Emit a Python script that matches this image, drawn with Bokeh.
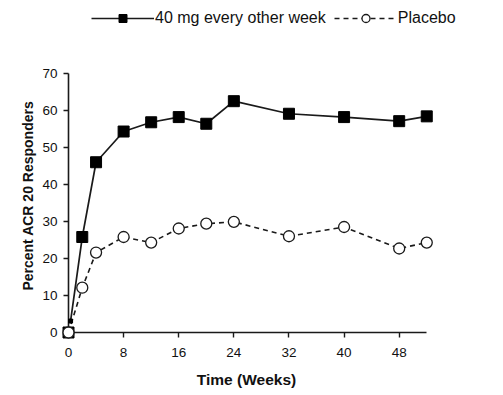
from bokeh.plotting import figure
from bokeh.models import Range1d, Legend, LegendItem, FixedTicker
from bokeh.embed import file_html
from bokeh.resources import INLINE

# ---- data ----
weeks_active = [0, 2, 4, 8, 12, 16, 20, 24, 32, 40, 48, 52]
resp_active = [0, 25.8, 46.0, 54.3, 56.8, 58.2, 56.4, 62.5, 59.1, 58.2, 57.1, 58.4]
line_weeks_active = [0.3, 2, 4, 8, 12, 16, 20, 24, 32, 40, 48, 52]
line_resp_active = [3.1, 25.8, 46.0, 54.3, 56.8, 58.2, 56.4, 62.5, 59.1, 58.2, 57.1, 58.4]
small_week = [0.3]
small_resp = [3.1]
weeks_placebo = [0, 2, 4, 8, 12, 16, 20, 24, 32, 40, 48, 52]
resp_placebo = [0, 12.1, 21.6, 25.8, 24.3, 28.1, 29.4, 29.9, 26.0, 28.5, 22.7, 24.3]
x_ticks = [0, 8, 16, 24, 32, 40, 48]
y_ticks = [0, 10, 20, 30, 40, 50, 60, 70]
label_active = "40 mg every other week"
label_placebo = "Placebo"
x_title = "Time (Weeks)"
y_title = "Percent ACR 20 Responders"

FONT = "Liberation Sans"
NB = "\u00a0"

p = figure(width=503, height=395, output_backend="svg", toolbar_location=None,
           x_range=Range1d(0, 59.8), y_range=Range1d(0, 89.7),
           min_border_top=0, min_border_bottom=63, min_border_left=68, min_border_right=23)
p.outline_line_color = None
p.grid.visible = False
p.background_fill_color = "white"

LC = "#1a1a1a"
la = p.line(line_weeks_active, line_resp_active, line_color=LC, line_width=1.7, level="overlay")
lp = p.line(weeks_placebo, resp_placebo, line_color=LC, line_width=1.6, line_dash="5 4", level="overlay")
p.scatter(small_week, small_resp, marker="square", size=4, fill_color="black", line_color="black", level="overlay")
sa = p.scatter(weeks_active, resp_active, marker="square", size=11, fill_color="black",
               line_color="black", level="overlay")
sp = p.scatter(weeks_placebo, resp_placebo, marker="circle", size=11, fill_color="white",
               line_color=LC, line_width=1.3, level="overlay")

for ax in (p.xaxis[0], p.yaxis[0]):
    ax.axis_line_color = LC
    ax.axis_line_width = 1.6
    ax.major_tick_line_color = LC
    ax.major_tick_line_width = 1.4
    ax.major_tick_in = 0
    ax.major_tick_out = 5
    ax.minor_tick_line_color = None
    ax.major_label_text_font = FONT
    ax.major_label_text_font_size = "13.5px"
    ax.major_label_text_color = "#111111"
    ax.axis_label_text_font = FONT
    ax.axis_label_text_font_style = "bold"
    ax.axis_label_text_color = "#111111"

p.xaxis.axis_label_text_font_size = "15.5px"
p.yaxis.axis_label_text_font_size = "14px"
p.xaxis.bounds = (0, 52)
p.yaxis.bounds = (0, 70)
p.xaxis.ticker = FixedTicker(ticks=x_ticks)
p.yaxis.ticker = FixedTicker(ticks=y_ticks)
# trailing no-break spaces shift the centred titles onto the drawn axis span
p.xaxis.axis_label = x_title + NB * 13
p.yaxis.axis_label = y_title + NB * 15
p.xaxis.major_label_standoff = 10
p.yaxis.major_label_standoff = 6
p.xaxis.axis_label_standoff = 11
p.yaxis.axis_label_standoff = 3

legend = Legend(items=[LegendItem(label=label_active, renderers=[la, sa]),
                       LegendItem(label=label_placebo, renderers=[lp, sp])],
                location=(23, 304), orientation="horizontal",
                glyph_width=63, glyph_height=20, label_standoff=1, spacing=8,
                padding=0, margin=0, background_fill_alpha=0, border_line_color=None,
                label_text_font=FONT, label_text_font_size="16px", label_text_color="#111111")
p.add_layout(legend, "center")

open("out.html", "w").write(file_html(p, INLINE))
